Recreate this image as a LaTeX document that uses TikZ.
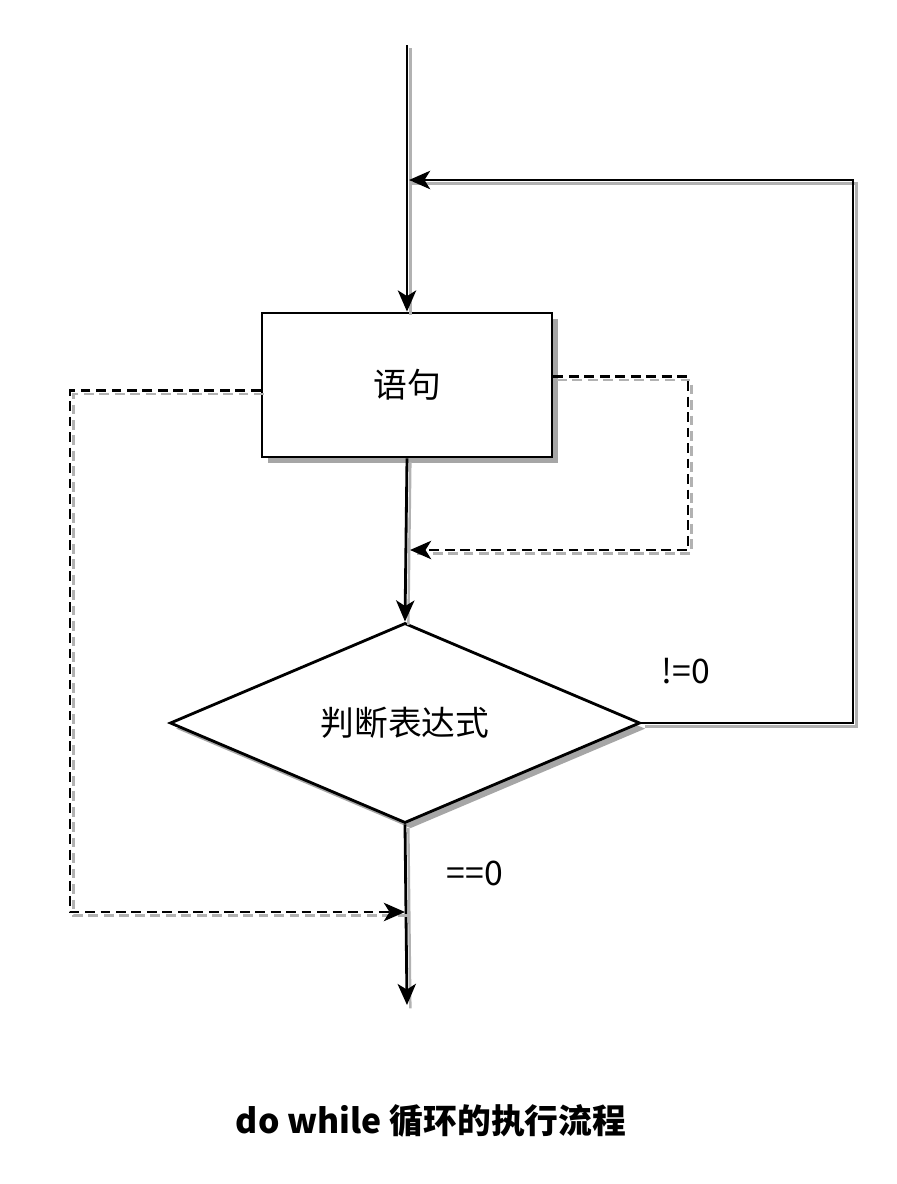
\documentclass[tikz,border=0pt]{standalone}
\usepackage{fontspec}
\setmainfont{Noto Sans CJK SC}
\usetikzlibrary{arrows.meta,shapes.geometric,shadows}

\begin{document}
\begin{tikzpicture}[x=0.025cm,y=-0.025cm]
    \tikzstyle{every node}=[font=\fontsize{24}{28}\selectfont]
    \tikzstyle{flow}=[line width=2pt, -{Stealth[length=15pt,width=13pt,inset=4pt]},
        preaction={draw=black!30, line width=1.7pt, -, transform canvas={shift={(2.4pt,-2.4pt)}}}]
    \tikzstyle{skip}=[line width=2pt, dash pattern=on 7pt off 4pt, -{Stealth[length=15pt,width=13pt,inset=4pt]},
        preaction={draw=black!30, line width=1.7pt, -, dash pattern=on 7pt off 4pt, transform canvas={shift={(2.4pt,-2.4pt)}}}]
    \tikzstyle{sketchshadow}=[drop shadow={shadow xshift=4pt, shadow yshift=-4pt, fill=black!35, opacity=1}]
    \useasboundingbox (0,0) rectangle (896,1184);
    \node [draw, line width=2pt, fill=white, sketchshadow, minimum width=7.25cm, minimum height=3.6cm] (stmt) at (407,385) {语句};
    \node [draw, diamond, line width=2pt, fill=white, sketchshadow, inner sep=0pt, minimum width=11.75cm, minimum height=4.8cm] (test) at (405,723) {判断表达式};
    \coordinate (start) at (407,45);
    \coordinate (back) at (409,180);
    \coordinate (loop) at (853,180);
    \coordinate (skipin) at (410,550);
    \coordinate (skipout) at (405,912);
    \coordinate (end) at (407,1005);
    \draw [flow] (start) -- (stmt.north);
    \draw [flow] (stmt.south) -- (test.north);
    \draw [flow] (test.south) -- (end);
    \draw [flow] (test.east) -| (loop) -- (back); % true branch goes back up
    \draw [skip] ([yshift=6pt]stmt.east) -| (688,550) -- (skipin);
    \draw [skip] ([yshift=-4pt]stmt.west) -| (70,912) -- (skipout);
    \node (ne) at (686,671) {!=0};
    \node (eq) at (475,873) {==0};
    \node [font=\fontsize{24}{28}\selectfont\bfseries] (title) at (431,1121) {do while 循环的执行流程};
\end{tikzpicture}
\end{document}
